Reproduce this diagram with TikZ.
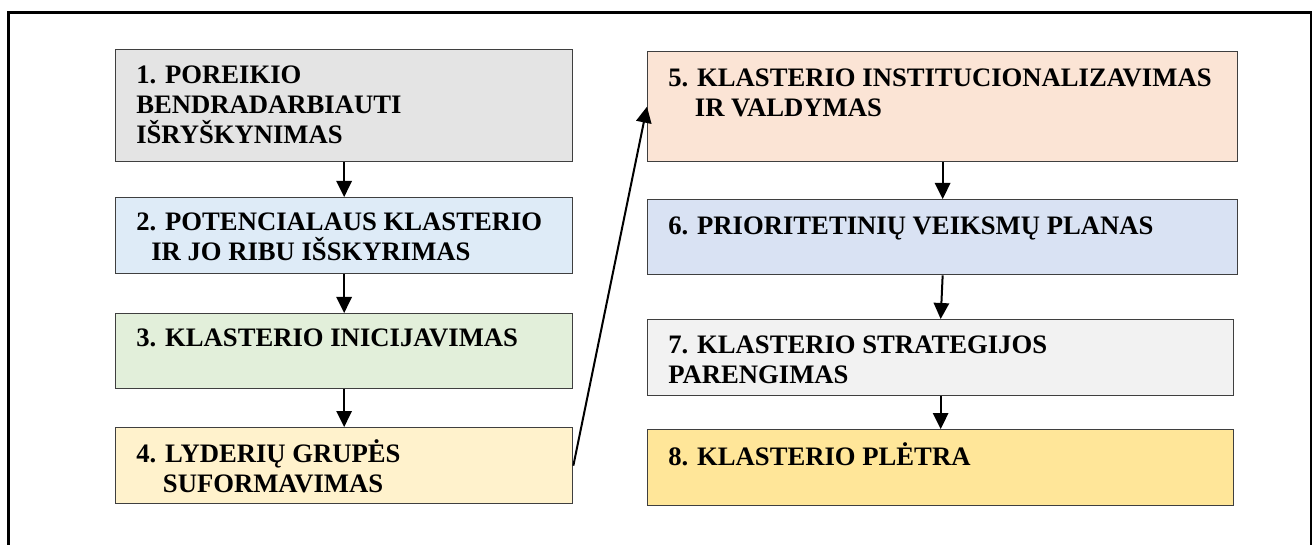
\documentclass[tikz,border=0pt]{standalone}
\usepackage{fontspec}
\setmainfont{Liberation Serif}
\usetikzlibrary{arrows.meta}
\definecolor{boxline}{HTML}{3F3F3F}
\definecolor{cGray}{HTML}{E4E4E4}
\definecolor{cBlue}{HTML}{DEEBF7}
\definecolor{cGreen}{HTML}{E2EFDA}
\definecolor{cCream}{HTML}{FFF2CC}
\definecolor{cPeach}{HTML}{FBE4D5}
\definecolor{cSlate}{HTML}{D9E2F3}
\definecolor{cLight}{HTML}{F2F2F2}
\definecolor{cGold}{HTML}{FFE699}
\begin{document}
\begin{tikzpicture}[x=0.75pt,y=-0.75pt,
  stepbox/.style={draw=boxline, line width=1pt, rectangle, inner sep=0pt, anchor=north west},
  % the base anchor of a multi-line title sits on its last line
  steptext/.style={anchor=base west, inner sep=0pt, align=left,
    font=\fontsize{20}{22.5}\selectfont\bfseries},
  flow/.style={line width=1.5pt, -{Triangle[length=12pt,width=11.5pt]}},
  frame/.style={line width=2pt, line cap=rect}
]
% page area
\path[use as bounding box, fill=white] (0,0) rectangle (1314,545);
% outer frame, open at the bottom
\draw[frame] (8.5,545) -- (8.5,12.5) -- (1311,12.5) -- (1311,545);

% left column
\node[stepbox, fill=cGray,  minimum width=342.75pt, minimum height=84pt]  (b1) at (115,49)  {};
\node[stepbox, fill=cBlue,  minimum width=342.75pt, minimum height=57pt]  (b2) at (115,197) {};
\node[stepbox, fill=cGreen, minimum width=342.75pt, minimum height=56.25pt] (b3) at (115,313) {};
\node[stepbox, fill=cCream, minimum width=342.75pt, minimum height=57pt]  (b4) at (115,427) {};
% right column
\node[stepbox, fill=cPeach, minimum width=442.5pt, minimum height=82.5pt]  (b5) at (647,51)  {};
\node[stepbox, fill=cSlate, minimum width=442.5pt, minimum height=56.25pt] (b6) at (647,199) {};
\node[stepbox, fill=cLight, minimum width=439.5pt, minimum height=57pt]    (b7) at (647,319) {};
\node[stepbox, fill=cGold,  minimum width=439.5pt, minimum height=57pt]    (b8) at (647,429) {};

% step titles (positioned by the baseline of their last line)
\node[steptext] (t1) at (136,144) {1. POREIKIO\\BENDRADARBIAUTI\\IŠRYŠKYNIMAS};
\node[steptext] (t2) at (136,261) {2. POTENCIALAUS KLASTERIO\\\hspace*{11.25pt}IR JO RIBU IŠSKYRIMAS};
\node[steptext] (t3) at (136,347) {3. KLASTERIO INICIJAVIMAS};
\node[steptext] (t4) at (136,492) {4. LYDERIŲ GRUPĖS\\\hspace*{20pt}SUFORMAVIMAS};
\node[steptext] (t5) at (668,117) {5. KLASTERIO INSTITUCIONALIZAVIMAS\\\hspace*{20pt}IR VALDYMAS};
\node[steptext] (t6) at (668,235) {6. PRIORITETINIŲ VEIKSMŲ PLANAS};
\node[steptext] (t7) at (668,383) {7. KLASTERIO STRATEGIJOS\\PARENGIMAS};
\node[steptext] (t8) at (668,465) {8. KLASTERIO PLĖTRA};

% connectors
\draw[flow] (b1.south) -- (b2.north);
\draw[flow] (b2.south) -- (b3.north);
\draw[flow] (b3.south) -- (b4.north);
\draw[flow] (b4.east) -- (b5.west);
\draw[flow] (b5.south) -- (b6.north);
\draw[flow] (b6.south) -- (b7.north);
\draw[flow] (b7.south) -- (b8.north);
\end{tikzpicture}
\end{document}
